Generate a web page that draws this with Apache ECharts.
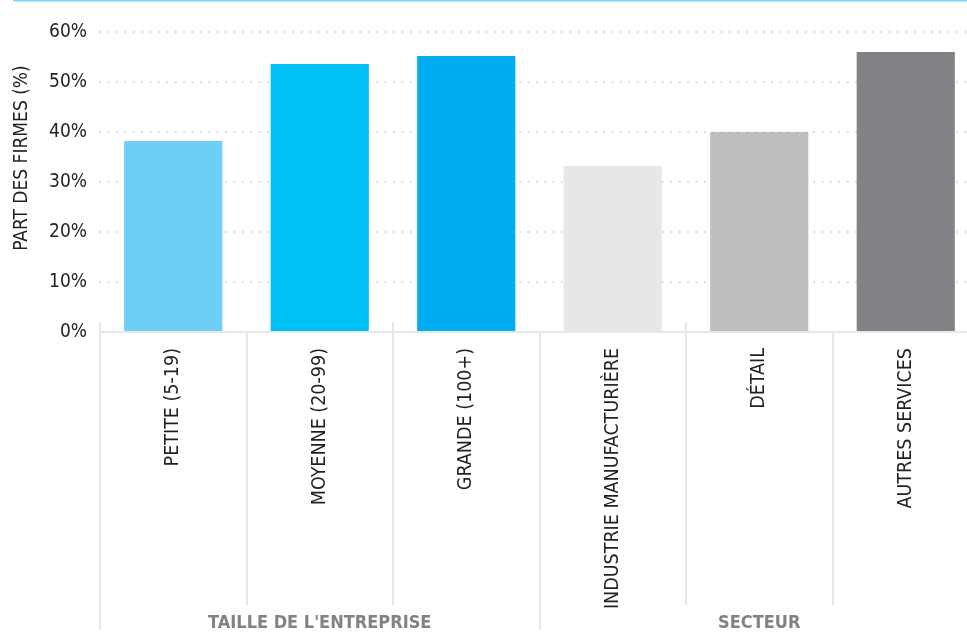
<!DOCTYPE html>
<html>
<head>
<meta charset="utf-8">
<script src="https://cdn.jsdelivr.net/npm/echarts@6/dist/echarts.min.js"></script>
<style>
  html, body { margin: 0; padding: 0; background: #ffffff; }
  #chart { width: 967px; height: 635px; }
</style>
</head>
<body>
<div id="chart"></div>
<script>
// Share of firms by company size and by sector
const categories = ['PETITE (5-19)', 'MOYENNE (20-99)', 'GRANDE (100+)', 'INDUSTRIE MANUFACTURIÈRE', 'DÉTAIL', 'AUTRES SERVICES'];
const values = [38.2, 53.6, 55.2, 33.2, 40.0, 56.0];
const barColors = ['#6dcff6', '#00bff3', '#00aeef', '#e6e7e8', '#bcbec0', '#818285'];
const groups = ["TAILLE DE L'ENTREPRISE", 'SECTEUR'];
const yTicks = [0, 10, 20, 30, 40, 50, 60];
const yTitle = 'PART DES FIRMES (%)';

const FONT = "'Liberation Sans Narrow', 'DejaVu Sans Condensed', 'Roboto', sans-serif";
const chart = echarts.init(document.getElementById('chart'), null, { renderer: 'canvas' });

chart.setOption({
  backgroundColor: '#ffffff',
  animation: false,
  graphic: [{
    type: 'line',
    shape: { x1: 13, y1: 0.5, x2: 967, y2: 0.5 },
    style: { stroke: '#7fd8f6', lineWidth: 2 }
  }],
  // the plot runs a little past the right edge of the canvas
  grid: { left: 100, top: 32, right: -12, height: 300, containLabel: false, outerBoundsMode: 'none' },
  xAxis: [
    {
      type: 'category',
      data: categories,
      position: 'bottom',
      axisLine: { show: true, lineStyle: { color: '#e6e7e8', width: 2 } },
      axisTick: { show: true, length: 273, lineStyle: { color: '#e6e7e8', width: 2 } },
      axisLabel: {
        rotate: 90, margin: 16, interval: 0, padding: [10, 0, 0, 0],
        fontFamily: FONT, fontSize: 19.5, color: '#231f20'
      },
      z: 5
    },
    {
      type: 'category',
      data: groups,
      position: 'bottom',
      axisLine: { show: false },
      axisTick: { show: true, length: 298, lineStyle: { color: '#e6e7e8', width: 2 } },
      axisLabel: {
        margin: 282, interval: 0,
        fontFamily: FONT, fontSize: 18, fontWeight: 'bold', color: '#808285'
      }
    },
    {
      type: 'category',
      data: categories,
      position: 'bottom',
      axisLine: { show: false },
      axisTick: { show: true, inside: true, length: 10, lineStyle: { color: '#e6e7e8', width: 2 } },
      axisLabel: { show: false }
    }
  ],
  yAxis: {
    type: 'value',
    min: yTicks[0], max: yTicks[yTicks.length - 1], interval: 10,
    name: yTitle,
    nameLocation: 'middle',
    nameGap: 68,
    nameRotate: 90,
    nameTextStyle: { fontFamily: FONT, fontSize: 19, color: '#231f20', padding: [0, 0, 0, 48] },
    axisLine: { show: false },
    axisTick: { show: false },
    axisLabel: {
      margin: 13, fontFamily: FONT, fontSize: 19, color: '#231f20',
      formatter: v => v + '%'
    },
    splitLine: {
      show: true,
      lineStyle: { color: '#d4d5d6', width: 2, type: [0.1, 8.3], cap: 'round' }
    }
  },
  series: [{
    type: 'bar',
    xAxisIndex: 0,
    barWidth: '67%',
    data: values.map((v, i) => ({ value: v, itemStyle: { color: barColors[i] } })),
    z: 2
  }]
});
</script>
</body>
</html>
